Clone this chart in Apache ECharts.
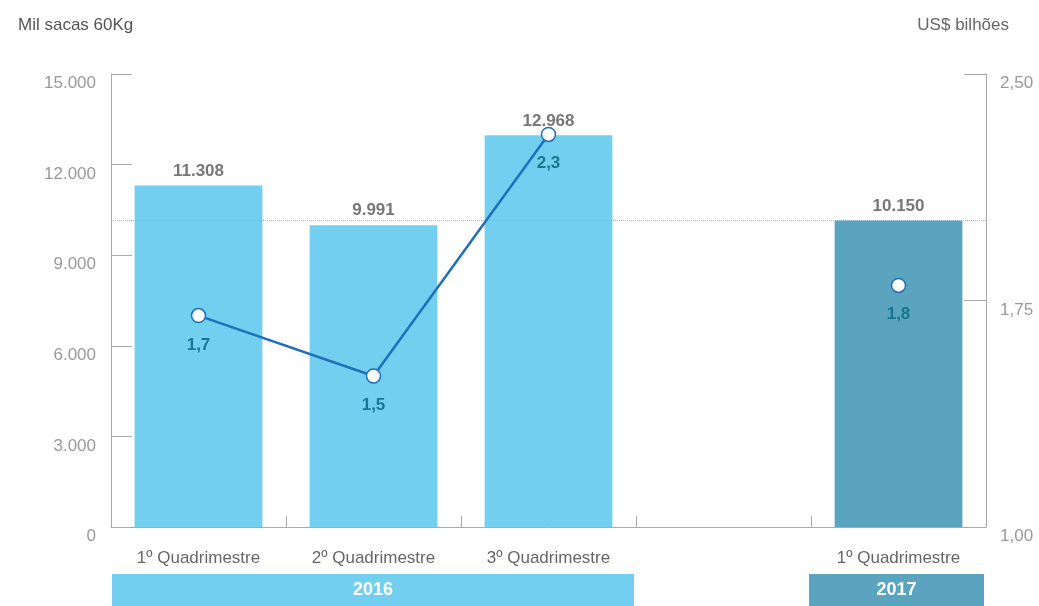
<!DOCTYPE html>
<html>
<head>
<meta charset="utf-8">
<script src="https://cdn.jsdelivr.net/npm/echarts@6/dist/echarts.min.js"></script>
<style>html,body{margin:0;padding:0;background:#fff}#c{width:1039px;height:606px}</style>
</head>
<body>
<div id="c"></div>
<script>
const categories = ['1º Quadrimestre', '2º Quadrimestre', '3º Quadrimestre', '', '1º Quadrimestre'];
const categoryYear = ['2016', '2016', '2016', '', '2017'];
const volumes = [11308, 9991, 12968, null, 10150];
const revenues = [1.7, 1.5, 2.3, null, 1.8];
const yearLabels = ['2016', '2017'];
const yearStart = [0, 4];
const yearEnd = [2, 4];
const referenceValue = volumes[4];

const FONT = "'Liberation Sans', Arial, Helvetica, sans-serif";
const LIGHT = '#72CFF0';
const DARK = '#5BA4BF';
const yearColors = { '2016': LIGHT, '2017': DARK };

function thousands(v) { return String(v).replace(/\B(?=(\d{3})+(?!\d))/g, '.'); }

const chart = echarts.init(document.getElementById('c'));
const option = {
  animation: false,
  textStyle: { fontFamily: FONT },
  title: [
    { text: 'Mil sacas 60Kg', left: 18, top: 17, padding: 0, textStyle: { fontFamily: FONT, fontSize: 17, fontWeight: 'normal', color: '#555' } },
    { text: 'US$ bilhões', right: 30, top: 17, padding: 0, textStyle: { fontFamily: FONT, fontSize: 17, fontWeight: 'normal', color: '#666' } }
  ],
  grid: { left: 111, right: 53, top: 74, bottom: 79 },
  xAxis: {
    type: 'category',
    data: categories,
    boundaryGap: true,
    axisLine: { lineStyle: { color: '#aaa', width: 1 } },
    axisTick: { show: true, interval: 0, inside: true, length: 11, lineStyle: { color: '#aaa' } },
    axisLabel: { color: '#666', fontSize: 17, margin: 23, fontFamily: FONT, interval: 0 }
  },
  yAxis: [
    {
      type: 'value', min: 0, max: 15000, interval: 3000,
      splitLine: { show: false },
      axisLine: { show: true, lineStyle: { color: '#aaa' } },
      axisTick: { show: true, inside: true, length: 21, lineStyle: { color: '#aaa' } },
      axisLabel: { color: '#999', fontSize: 17, margin: 15, verticalAlign: 'top', padding: [1, 0, 0, 0], fontFamily: FONT, formatter: v => thousands(v) }
    },
    {
      type: 'value', min: 1, max: 2.5, interval: 0.75,
      splitLine: { show: false },
      axisLine: { show: true, lineStyle: { color: '#aaa' } },
      axisTick: { show: true, inside: true, length: 22, lineStyle: { color: '#aaa' } },
      axisLabel: { color: '#999', fontSize: 17, margin: 14, verticalAlign: 'top', padding: [1, 0, 0, 0], fontFamily: FONT, formatter: v => v.toFixed(2).replace('.', ',') }
    }
  ],
  series: [
    {
      type: 'bar',
      data: volumes,
      barCategoryGap: '27%',
      itemStyle: { color: p => yearColors[categoryYear[p.dataIndex]] || LIGHT },
      label: {
        show: true, position: 'top', distance: 6,
        color: '#777', fontSize: 17, fontWeight: 'bold', fontFamily: FONT,
        formatter: p => thousands(p.value)
      },
      markLine: {
        silent: true,
        symbol: 'none',
        label: { show: false },
        lineStyle: { color: '#aaa', type: 'dotted', width: 1 },
        data: [{ yAxis: referenceValue }]
      },
      z: 2
    },
    {
      type: 'line',
      yAxisIndex: 1,
      data: revenues,
      connectNulls: false,
      symbol: 'circle',
      symbolSize: 14,
      lineStyle: { color: '#1F6FBA', width: 2.5 },
      itemStyle: { color: '#fff', borderColor: '#1F6FBA', borderWidth: 1.5 },
      label: {
        show: true, position: 'bottom', distance: 13,
        color: '#16788F', fontSize: 17, fontWeight: 'bold', fontFamily: FONT,
        formatter: p => p.value == null ? '' : p.value.toFixed(1).replace('.', ',')
      },
      z: 5
    }
  ]
};
chart.setOption(option);

// Year bands below the x axis, positioned from the category scale
const c0 = chart.convertToPixel({ xAxisIndex: 0 }, 0);
const c1 = chart.convertToPixel({ xAxisIndex: 0 }, 1);
const band = c1 - c0;
const baseY = chart.convertToPixel({ yAxisIndex: 0 }, 0);
const bandTop = baseY + 47;
const graphics = yearLabels.map((lab, i) => {
  const xs = chart.convertToPixel({ xAxisIndex: 0 }, yearStart[i]) - band / 2 + (i === 0 ? 1 : -2);
  const xe = chart.convertToPixel({ xAxisIndex: 0 }, yearEnd[i]) + band / 2 - 2;
  return {
    type: 'group',
    children: [
      { type: 'rect', shape: { x: xs, y: bandTop, width: xe - xs, height: 606 - bandTop }, style: { fill: yearColors[lab] } },
      { type: 'text', x: (xs + xe) / 2, y: bandTop + (606 - bandTop) / 2, style: { text: lab, fill: '#fff', font: 'bold 18px ' + FONT, textAlign: 'center', textVerticalAlign: 'middle' } }
    ]
  };
});
chart.setOption({ graphic: graphics });
</script>
</body>
</html>
